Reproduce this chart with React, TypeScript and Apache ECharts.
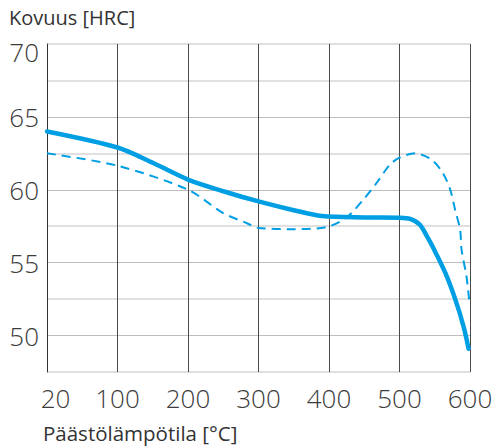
import React, { useEffect, useRef } from 'react';
import * as echarts from 'echarts';

// x positions: axis runs 0..600, where the first tick (0) is labelled "20" °C
const xTickLabels = ['20', '100', '200', '300', '400', '500', '600'];
const yTickLabels = [50, 55, 60, 65, 70];

const solidX = [0, 100, 150, 200, 250, 300, 350, 390, 450, 500, 515, 529, 539, 548, 565, 579, 591, 598];
const solidY = [64.0, 62.9, 61.85, 60.7, 59.9, 59.2, 58.6, 58.2, 58.1, 58.08, 58.0, 57.6, 56.8, 56.0, 54.3, 52.5, 50.6, 49.1];

const dashedX = [0, 100, 200, 250, 283, 300, 350, 397, 425, 450, 468, 486, 500, 522, 546, 562, 572, 579, 586, 588, 595, 599];
const dashedY = [62.5, 61.65, 60.0, 58.4, 57.72, 57.38, 57.3, 57.45, 58.1, 59.4, 60.5, 61.7, 62.2, 62.5, 62.05, 61.1, 60.0, 58.6, 57.26, 55.9, 54.06, 52.35];

const BLUE = '#009fe3';
const FONT = 'Open Sans';

export default function App() {
  const ref = useRef<HTMLDivElement>(null);
  useEffect(() => {
    if (!ref.current) return;
    const chart = echarts.init(ref.current, null, { renderer: 'svg' });
    const labelStyle = { fontFamily: FONT, fontSize: 26, fontWeight: 300 as any, color: '#3c3c3c' };
    chart.setOption({
      animation: false,
      grid: { left: 47, right: 26, top: 44, bottom: 74, containLabel: false },
      xAxis: {
        type: 'value',
        min: 0,
        max: 600,
        interval: 100,
        axisLine: { show: false },
        axisTick: { show: false },
        axisLabel: {
          ...labelStyle,
          margin: 13,
          formatter: (v: number) => {
            const t = xTickLabels[Math.round(v / 100)] ?? '';
            return v === 0 ? '{first|' + t + '}' : t;
          },
          rich: { first: { ...labelStyle, padding: [0, 0, 0, 17] } },
        },
        splitLine: { show: true, lineStyle: { color: '#4a4a4a', width: 1 } },
      },
      yAxis: [
        {
          type: 'value',
          min: 47.5,
          max: 70,
          interval: 2.5,
          axisLine: { show: true, lineStyle: { color: '#333', width: 1 } },
          axisTick: { show: false },
          axisLabel: {
            ...labelStyle,
            margin: 8,
            formatter: (v: number) => {
              if (!yTickLabels.includes(v)) return '';
              return v === 70 ? '{top|' + v + '}' : String(v);
            },
            rich: { top: { ...labelStyle, padding: [16, 0, 0, 0] } },
          },
          splitLine: { show: true, lineStyle: { color: ['transparent', '#bdbdbd'], width: 1 } },
        },
        {
          type: 'value',
          min: 47.5,
          max: 70,
          interval: 5,
          position: 'left',
          axisLine: { show: false },
          axisTick: { show: false },
          axisLabel: { show: false },
          splitLine: { show: true, lineStyle: { color: '#e0e0e0', width: 2 } },
        },
      ],
      series: [
        {
          type: 'line',
          data: dashedX.map((x, i) => [x, dashedY[i]]),
          showSymbol: false,
          smooth: 0.3,
          lineStyle: { color: BLUE, width: 2, type: [9, 6] },
          z: 3,
        },
        {
          type: 'line',
          data: solidX.map((x, i) => [x, solidY[i]]),
          showSymbol: false,
          smooth: 0.3,
          lineStyle: { color: BLUE, width: 4.5, cap: 'round' },
          z: 4,
        },
      ],
      graphic: [
        {
          type: 'text',
          left: 9,
          top: 7,
          style: { text: 'Kovuus [HRC]', fontFamily: FONT, fontSize: 20, fill: '#333' },
        },
        {
          type: 'text',
          left: 43,
          top: 422,
          style: { text: 'Päästölämpötila [°C]', fontFamily: FONT, fontSize: 20.5, fill: '#333' },
        },
      ],
    });
    return () => chart.dispose();
  }, []);
  return <div ref={ref} style={{ position: 'absolute', left: 0, top: 0, width: 496, height: 446 }} />;
}
